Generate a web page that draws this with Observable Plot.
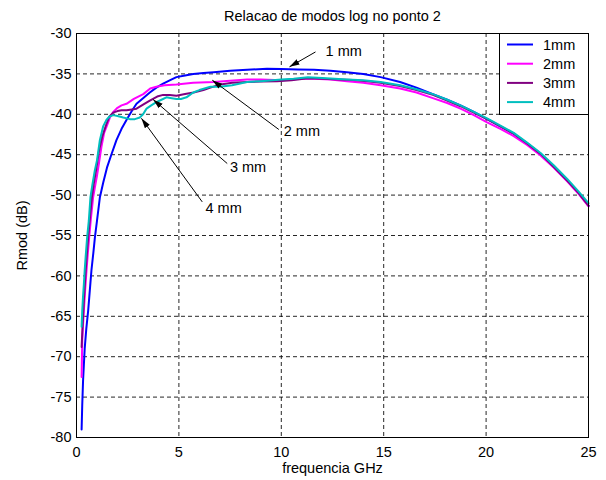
<!DOCTYPE html>
<html>
<head>
<meta charset="utf-8">
<script src="https://cdn.jsdelivr.net/npm/d3@7"></script>
<script src="https://cdn.jsdelivr.net/npm/@observablehq/plot@0.6"></script>
<style>
  html, body { margin: 0; padding: 0; background: #fff; }
  #chart { width: 606px; height: 480px; }
</style>
</head>
<body>
<div id="chart"></div>
<script>
const titleText = "Relacao de modos log no ponto 2";
const xLabel = "frequencia GHz";
const yLabel = "Rmod (dB)";
const xTicks = [0, 5, 10, 15, 20, 25];
const yTicks = [-80, -75, -70, -65, -60, -55, -50, -45, -40, -35, -30];

const seriesNames = ["1mm", "2mm", "3mm", "4mm"];
const seriesColors = ["#0000FF", "#FF00FF", "#800080", "#00BFBF"];

const x1mm = [0.25,0.28,0.32,0.36,0.4,0.48,0.57,0.65,0.73,0.82,0.9,1.0,1.14,1.3,1.5,1.7,1.95,2.2,2.44,2.7,2.93,3.25,3.58,3.9,4.23,4.55,4.88,5.3,5.7,6.2,6.7,7.5,8.33,9.3,10.0,10.8,11.6,12.4,13.2,14.0,14.85,15.8,16.6,17.4,18.1,18.75,19.4,20.05,20.7,21.35,22.0,22.66,23.3,23.96,24.5,25];
const y1mm = [-79,-76,-73,-71,-69,-66.5,-64.3,-61.8,-59.3,-57.2,-55.2,-53.2,-50.3,-48.5,-46.5,-45,-43.2,-41.8,-40.7,-39.6,-38.7,-38,-37.3,-36.7,-36.2,-35.8,-35.4,-35.2,-35.0,-34.9,-34.8,-34.6,-34.5,-34.35,-34.4,-34.45,-34.5,-34.6,-34.8,-35.0,-35.4,-36.0,-36.7,-37.5,-38.2,-38.9,-39.7,-40.6,-41.5,-42.4,-43.6,-44.9,-46.5,-48.2,-49.7,-51.3];

const x2mm = [0.25,0.28,0.32,0.36,0.42,0.49,0.55,0.62,0.7,0.81,0.9,1.0,1.1,1.22,1.35,1.5,1.63,1.8,2.0,2.2,2.44,2.8,3.26,3.6,3.9,4.3,4.88,5.7,6.7,7.5,8.33,9.0,10.0,10.9,11.6,12.4,13.2,14.0,14.85,15.8,16.6,17.4,18.1,18.75,19.4,20.05,20.7,21.35,22.0,22.66,23.3,23.96,24.5,25];
const y2mm = [-72.5,-68,-66,-64.3,-61.8,-59.3,-57.3,-55.2,-53,-50.3,-49,-47.6,-46,-44,-42.3,-41.3,-40.4,-39.7,-39.2,-38.9,-38.7,-38.1,-37.5,-36.8,-36.6,-36.4,-36.3,-36.1,-36.0,-35.85,-35.7,-35.7,-35.8,-35.6,-35.6,-35.7,-35.9,-36.1,-36.4,-36.8,-37.3,-38.0,-38.6,-39.3,-40.1,-41.0,-41.8,-42.7,-43.8,-45.1,-46.6,-48.3,-49.8,-51.4];

const x3mm = [0.25,0.3,0.35,0.4,0.45,0.51,0.57,0.66,0.75,0.85,0.95,1.1,1.25,1.46,1.6,1.79,2.0,2.2,2.44,2.7,2.93,3.25,3.58,3.94,4.23,4.55,4.88,5.3,5.72,6.2,6.54,7.03,7.6,8.33,9.0,9.8,10.5,11.3,12.0,12.8,13.5,14.2,14.85,15.8,16.6,17.4,18.1,18.75,19.4,20.05,20.7,21.35,22.0,22.66,23.3,23.96,24.5,25];
const y3mm = [-68.8,-66,-63.5,-61.3,-59.3,-57.2,-55.2,-52.7,-50.3,-48.5,-47,-44.5,-42.8,-41.2,-40.3,-39.8,-39.6,-39.5,-39.5,-39.4,-39.3,-38.8,-38.3,-37.8,-37.6,-37.6,-37.7,-37.5,-37.3,-37.0,-36.7,-36.3,-36.1,-36.0,-35.95,-35.9,-35.8,-35.55,-35.6,-35.7,-35.75,-35.9,-36.1,-36.5,-37.0,-37.6,-38.3,-39.0,-39.8,-40.6,-41.5,-42.4,-43.6,-44.9,-46.5,-48.2,-49.7,-51.3];

const x4mm = [0.25,0.28,0.32,0.36,0.4,0.45,0.52,0.6,0.68,0.77,0.89,1.0,1.14,1.3,1.46,1.6,1.79,2.0,2.28,2.6,2.85,3.09,3.25,3.42,3.65,3.9,4.15,4.39,4.65,4.88,5.1,5.37,5.7,6.0,6.54,7.0,7.6,8.33,9.0,10.0,10.6,11.3,12.0,12.6,13.2,14.0,14.85,15.8,16.6,17.4,18.1,18.75,19.4,20.05,20.7,21.35,22.0,22.66,23.3,23.96,24.5,25];
const y4mm = [-66.3,-64.3,-62.5,-61,-59.3,-57.5,-55.2,-53.2,-50.3,-48.8,-47,-45.7,-43.2,-41.5,-40.7,-40.3,-40.1,-40.2,-40.4,-40.6,-40.6,-40.4,-40.0,-39.3,-38.9,-38.5,-38.2,-37.9,-38.0,-38.1,-38.1,-37.9,-37.3,-37.0,-36.6,-36.6,-36.4,-36.0,-35.9,-35.7,-35.6,-35.4,-35.5,-35.6,-35.7,-35.8,-36.0,-36.4,-36.9,-37.5,-38.2,-38.9,-39.7,-40.5,-41.4,-42.3,-43.5,-44.8,-46.3,-48.0,-49.5,-51.0];

const annLabels = ["1 mm", "2 mm", "3 mm", "4 mm"];
const annTextX = [12.16, 10.12, 7.49, 6.3];
const annTextY = [-32.2, -42.15, -46.58, -51.58];
const annFromX = [11.67, 9.88, 7.36, 6.14];
const annFromY = [-32.28, -41.88, -46.09, -50.84];
const annToX = [10.4, 6.63, 3.74, 3.17];
const annToY = [-34.13, -35.78, -38.17, -40.5];

const xs = [x1mm, x2mm, x3mm, x4mm];
const ys = [y1mm, y2mm, y3mm, y4mm];
const rows = [];
seriesNames.forEach((name, i) => {
  xs[i].forEach((xv, j) => rows.push({series: name, x: xv, y: ys[i][j]}));
});
const ann = annLabels.map((label, i) => ({
  label, tx: annTextX[i], ty: annTextY[i],
  fx: annFromX[i], fy: annFromY[i], ex: annToX[i], ey: annToY[i]
}));

const font = "'Liberation Sans', Arial, sans-serif";
const fs = 14.5;
const plain = d => String(d);

const chart = Plot.plot({
  width: 606,
  height: 480,
  marginLeft: 76,
  marginRight: 18,
  marginTop: 33,
  marginBottom: 43,
  style: {fontFamily: font, fontSize: fs + "px", background: "#fff", color: "#000"},
  x: {domain: [0, 25], ticks: xTicks, label: null, tickFormat: plain},
  y: {domain: [-80, -30], ticks: yTicks, label: null, tickFormat: plain},
  color: {domain: seriesNames, range: seriesColors},
  marks: [
    Plot.gridX(xTicks, {stroke: "#000", strokeOpacity: 0.85, strokeDasharray: "4,3"}),
    Plot.gridY(yTicks, {stroke: "#000", strokeOpacity: 0.85, strokeDasharray: "4,3"}),
    Plot.line(rows, {x: "x", y: "y", z: "series", stroke: "series", strokeWidth: 2, curve: "linear"}),
    Plot.link(ann, {x1: "fx", y1: "fy", x2: "ex", y2: "ey", stroke: "#000", strokeWidth: 1, markerEnd: "arrow"}),
    Plot.text(ann, {x: "tx", y: "ty", text: "label", textAnchor: "start", fill: "#000", fontSize: fs}),
    Plot.frame({stroke: "#000", strokeWidth: 1}),
    Plot.axisX(xTicks, {tickSize: 0, tickPadding: 9, label: null, tickFormat: plain, fontSize: fs}),
    Plot.axisY(yTicks, {tickSize: 0, tickPadding: 5, label: null, tickFormat: plain, fontSize: fs}),
    Plot.text([titleText], {frameAnchor: "top", lineAnchor: "middle", dy: -17, fontSize: fs, fill: "#000"}),
    Plot.text([xLabel], {frameAnchor: "bottom", lineAnchor: "middle", dy: 31, fontSize: fs, fill: "#000"}),
    Plot.text([yLabel], {frameAnchor: "left", lineAnchor: "middle", textAnchor: "middle", dx: -54, rotate: -90, fontSize: fs, fill: "#000"})
  ]
});

const svg = d3.select(chart);
// filled arrowheads like the original
svg.selectAll("marker")
  .attr("viewBox", "-10 -5 10 10")
  .attr("markerWidth", 10)
  .attr("markerHeight", 10)
  .attr("refX", 0).attr("refY", 0);
svg.selectAll("marker path")
  .attr("d", "M-10,-3L0,0L-10,3Z")
  .attr("fill", "#000")
  .attr("stroke", "none");

// legend box (top-right, inside axes)
const lg = svg.append("g")
  .attr("font-family", font)
  .attr("font-size", fs + "px")
  .attr("text-anchor", "start");
lg.append("rect").attr("x", 499.5).attr("y", 33.5).attr("width", 89).attr("height", 81)
  .attr("fill", "#fff").attr("stroke", "#000");
seriesNames.forEach((name, i) => {
  const yy = 44.5 + i * 19.2;
  lg.append("line").attr("x1", 507).attr("x2", 533).attr("y1", yy).attr("y2", yy)
    .attr("stroke", seriesColors[i]).attr("stroke-width", 2);
  lg.append("text").attr("x", 543).attr("y", yy).attr("dy", "0.35em")
    .attr("text-anchor", "start").attr("fill", "#000").text(name);
});

document.getElementById("chart").appendChild(chart);
</script>
</body>
</html>
